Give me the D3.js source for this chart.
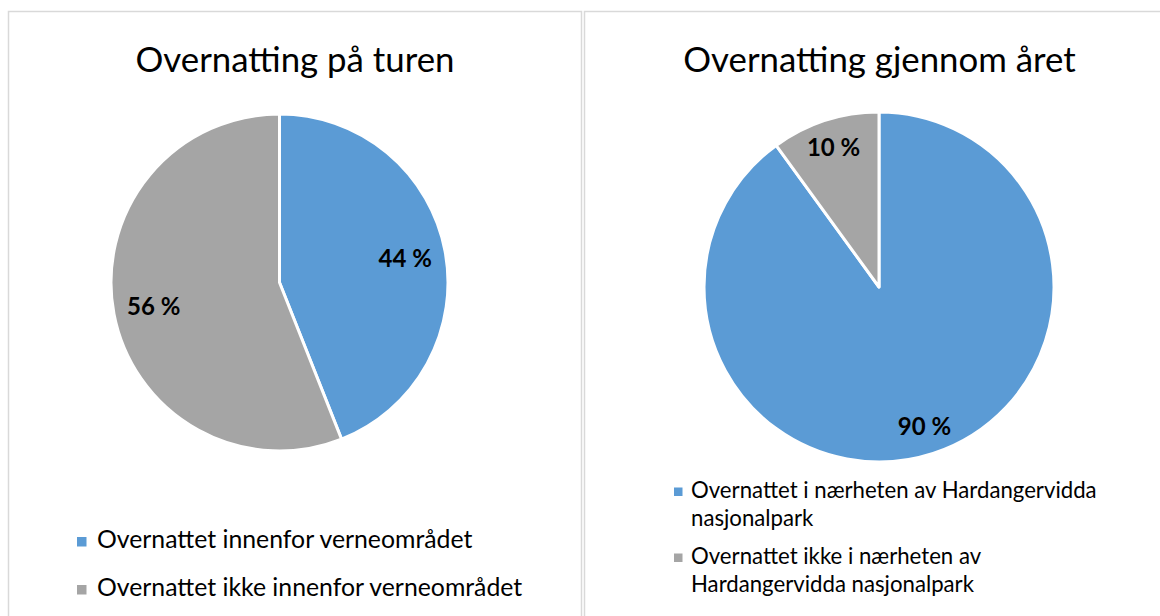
<!DOCTYPE html>
<html>
<head>
<meta charset="utf-8">
<script src="https://cdn.jsdelivr.net/npm/d3@7"></script>
<style>
  html, body { margin: 0; padding: 0; background: #ffffff; }
  svg { display: block; font-family: Lato, "Open Sans", sans-serif; }
</style>
</head>
<body>
<svg id="chart" width="1160" height="616"></svg>
<script>
// ---- Data ----
const titles = ["Overnatting på turen", "Overnatting gjennom året"];
const leftCategories = ["Overnattet innenfor verneområdet", "Overnattet ikke innenfor verneområdet"];
const leftValues = [44, 56];
const rightCategories = ["Overnattet i nærheten av Hardangervidda nasjonalpark", "Overnattet ikke i nærheten av Hardangervidda nasjonalpark"];
const rightValues = [90, 10];
const rightLegendLines = [["Overnattet i nærheten av Hardangervidda", "nasjonalpark"], ["Overnattet ikke i nærheten av", "Hardangervidda nasjonalpark"]];
const colors = ["#5B9BD5", "#A5A5A5"];

const svg = d3.select("#chart");

// panel borders
svg.append("rect").attr("x", 8.5).attr("y", 11.5).attr("width", 573).attr("height", 620)
  .attr("fill", "none").attr("stroke", "#D9D9D9").attr("stroke-width", 1.5);
svg.append("rect").attr("x", 584.5).attr("y", 11.5).attr("width", 600).attr("height", 620)
  .attr("fill", "none").attr("stroke", "#D9D9D9").attr("stroke-width", 1.5);

const color = d3.scaleOrdinal().range(colors);

function drawPie(cfg) {
  const g = svg.append("g").attr("transform", `translate(${cfg.cx},${cfg.cy})`);
  const pie = d3.pie().sort(null).value(d => d.value);
  const arcs = pie(cfg.categories.map((c, i) => ({ cat: c, value: cfg.values[i], i })));
  const arc = d3.arc().innerRadius(0).outerRadius(cfg.r);
  const labelArc = d3.arc().innerRadius(cfg.r * cfg.labelK).outerRadius(cfg.r * cfg.labelK);
  g.selectAll("path.slice").data(arcs).enter().append("path")
    .attr("class", "slice")
    .attr("d", arc)
    .attr("fill", d => color(d.data.i))
    .attr("stroke", "#ffffff")
    .attr("stroke-width", 3)
    .attr("stroke-linejoin", "round");
  g.selectAll("text.lbl").data(arcs).enter().append("text")
    .attr("class", "lbl")
    .attr("x", d => labelArc.centroid(d)[0])
    .attr("y", d => labelArc.centroid(d)[1] + 8.5)
    .attr("text-anchor", "middle")
    .attr("font-size", 24)
    .attr("font-weight", "bold")
    .attr("fill", "#000")
    .text(d => d.data.value + " %");
}

// titles
svg.append("text").attr("x", 295).attr("y", 72).attr("text-anchor", "middle")
  .attr("font-size", 34.8).attr("fill", "#000").text(titles[0]);
svg.append("text").attr("x", 879.5).attr("y", 72).attr("text-anchor", "middle")
  .attr("font-size", 34.8).attr("fill", "#000").text(titles[1]);

drawPie({ cx: 279.5, cy: 282.5, r: 168.5, categories: leftCategories, values: leftValues, labelK: 0.76 });
drawPie({ cx: 879, cy: 287, r: 175, categories: rightCategories, values: rightValues, labelK: 0.84 });

// left legend
const lg = svg.append("g");
leftCategories.forEach((c, i) => {
  const y = 548 + i * 48;
  lg.append("rect").attr("x", 77).attr("y", y - 11).attr("width", 9.5).attr("height", 9.5).attr("fill", colors[i]);
  lg.append("text").attr("x", 97).attr("y", y).attr("font-size", 24.8).attr("fill", "#000").text(c);
});

// right legend
const rg = svg.append("g");
rightLegendLines.forEach((lines, i) => {
  const y = 497.5 + i * 66;
  rg.append("rect").attr("x", 674).attr("y", y - 10).attr("width", 8.5).attr("height", 8.5).attr("fill", colors[i]);
  const t = rg.append("text").attr("x", 691).attr("y", y).attr("font-size", 22.2).attr("fill", "#000");
  lines.forEach((ln, j) => {
    t.append("tspan").attr("x", 691).attr("dy", j === 0 ? 0 : 28.5).text(ln);
  });
});
</script>
</body>
</html>
